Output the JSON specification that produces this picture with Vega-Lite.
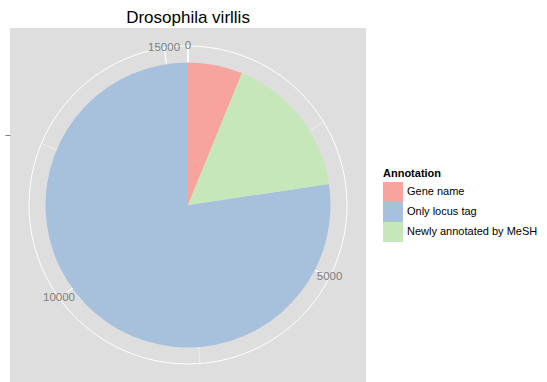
{
  "$schema": "https://vega.github.io/schema/vega-lite/v6.json",
  "width": 356,
  "height": 354,
  "autosize": {"type": "none"},
  "padding": {"left": 10, "top": 28, "right": 181, "bottom": 0},
  "background": "white",
  "config": {
    "view": {"fill": "#DEDEDE", "stroke": null},
    "font": "Liberation Sans",
    "legend": {
      "orient": "none",
      "legendX": 373,
      "legendY": 140,
      "titleFontSize": 11,
      "titleFontWeight": "bold",
      "titleColor": "black",
      "titlePadding": 3,
      "labelFontSize": 11,
      "labelColor": "black",
      "labelOffset": 4,
      "symbolType": "square",
      "symbolSize": 400,
      "symbolStrokeWidth": 0,
      "rowPadding": 0
    }
  },
  "title": {
    "text": "Drosophila virllis",
    "fontSize": 17,
    "fontWeight": "normal",
    "color": "black",
    "anchor": "middle",
    "offset": 1,
    "font": "Liberation Sans"
  },
  "datasets": {
    "slices": [
      {"annotation": "Gene name", "count": 950},
      {"annotation": "Only locus tag", "count": 11890},
      {"annotation": "Newly annotated by MeSH", "count": 2530}
    ],
    "major": [{"brk": 0}, {"brk": 5000}, {"brk": 10000}, {"brk": 15000}],
    "minor": [{"brk": 2500}, {"brk": 7500}, {"brk": 12500}]
  },
  "layer": [
    {
      "data": {"name": "minor"},
      "mark": {"type": "arc", "radius": 159, "radius2": 0, "filled": false, "color": "#EFEFEF", "strokeWidth": 0.6},
      "encoding": {
        "theta": {"field": "brk", "type": "quantitative", "stack": null, "scale": {"domain": [0, 15370], "nice": false}},
        "theta2": {"field": "brk"}
      }
    },
    {
      "data": {"name": "major"},
      "mark": {"type": "arc", "radius": 159, "radius2": 0, "filled": false, "color": "white", "strokeWidth": 1},
      "encoding": {
        "theta": {"field": "brk", "type": "quantitative", "stack": null, "scale": {"domain": [0, 15370], "nice": false}},
        "theta2": {"field": "brk"}
      }
    },
    {
      "data": {"values": [{}]},
      "mark": {"type": "arc", "radius": 159, "filled": false, "color": "white", "strokeWidth": 1},
      "encoding": {
        "theta": {"value": 0},
        "theta2": {"value": 6.28318}
      }
    },
    {
      "data": {"name": "slices"},
      "mark": {"type": "arc", "radius": 142.5, "stroke": null},
      "encoding": {
        "theta": {"field": "count", "type": "quantitative", "stack": true, "scale": {"domain": [0, 15370], "nice": false}},
        "color": {
          "field": "annotation",
          "type": "nominal",
          "title": "Annotation",
          "scale": {
            "domain": ["Gene name", "Only locus tag", "Newly annotated by MeSH"],
            "range": ["#F7A39E", "#A7C1DD", "#C6E7BA"]
          }
        },
        "order": {"field": "count", "sort": "ascending"}
      }
    },
    {
      "data": {"name": "major"},
      "mark": {"type": "text", "radius": 159, "align": "center", "baseline": "middle", "fontSize": 11.5, "color": "#7F7F7F"},
      "encoding": {
        "theta": {"field": "brk", "type": "quantitative", "stack": null, "scale": {"domain": [0, 15370], "nice": false}},
        "text": {"field": "brk", "type": "quantitative", "format": "d"}
      }
    },
    {
      "data": {"values": [{}]},
      "mark": {"type": "point", "opacity": 0},
      "encoding": {
        "y": {
          "datum": 0.5,
          "type": "quantitative",
          "scale": {"domain": [0, 1]},
          "axis": {"values": [0.6986], "labels": false, "domain": false, "grid": false, "ticks": true, "tickColor": "#7F7F7F", "tickSize": 5, "tickWidth": 1, "title": null}
        }
      }
    }
  ]
}
